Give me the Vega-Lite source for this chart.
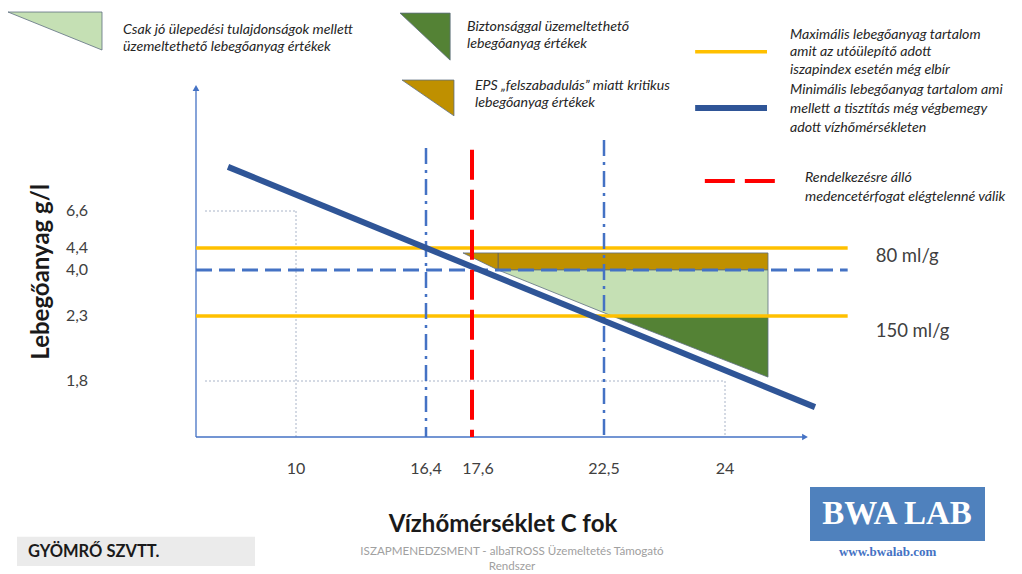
{
  "$schema": "https://vega.github.io/schema/vega-lite/v6.json",
  "width": 1022,
  "height": 574,
  "autosize": {"type": "none"},
  "padding": 0,
  "background": "white",
  "config": {"view": {"stroke": null}},
  "datasets": {
    "boxes": [
      {"box": "site", "x": -17.9, "x2": 5.9, "y": -3.21, "y2": -4.15},
      {"box": "logo", "x": 30.375, "x2": 43.5, "y": -1.61, "y2": -3.34}
    ],
    "regions": [
      {"shape": "L1", "kind": "light", "x": -18.8, "y": 12.1, "y2": 12.1},
      {"shape": "L1", "kind": "light", "x": -9.4, "y": 11.05, "y2": 12.1},
      {"shape": "L2", "kind": "dark", "x": 15.12, "y": 12.07, "y2": 12.07},
      {"shape": "L2", "kind": "dark", "x": 17.03, "y": 10.77, "y2": 12.07},
      {"shape": "L3", "kind": "brown", "x": 15.22, "y": 10.22, "y2": 10.22},
      {"shape": "L3", "kind": "brown", "x": 17.13, "y": 9.23, "y2": 10.22},
      {"shape": "B", "kind": "brown", "x": 17.365, "y": 4.31, "y2": 4.31},
      {"shape": "B", "kind": "brown", "x": 18.57, "y": 4.0, "y2": 4.31},
      {"shape": "B", "kind": "brown", "x": 27.225, "y": 4.0, "y2": 4.31},
      {"shape": "G1", "kind": "light", "x": 18.57, "y": 4.0, "y2": 4.0},
      {"shape": "G1", "kind": "light", "x": 22.6, "y": 2.3, "y2": 4.0},
      {"shape": "G1", "kind": "light", "x": 27.225, "y": 2.3, "y2": 4.0},
      {"shape": "G2", "kind": "dark", "x": 22.6, "y": 2.3, "y2": 2.3},
      {"shape": "G2", "kind": "dark", "x": 27.225, "y": 1.83, "y2": 2.3}
    ],
    "segments": [
      {"kind": "axis", "x": 0, "y": 0, "x2": 0, "y2": 10},
      {"kind": "axis", "x": 0, "y": 0, "x2": 30, "y2": 0},
      {"kind": "dotted", "x": 0.9, "y": 6.6, "x2": 10, "y2": 6.6},
      {"kind": "dotted", "x": 10, "y": 6.6, "x2": 10, "y2": 0},
      {"kind": "dotted", "x": 0.9, "y": 1.8, "x2": 24, "y2": 1.8},
      {"kind": "dotted", "x": 24, "y": 1.8, "x2": 24, "y2": 0},
      {"kind": "edge", "x": 18.57, "y": 4.0, "x2": 18.57, "y2": 4.31},
      {"kind": "yellow", "x": 0, "y": 4.4, "x2": 33.2, "y2": 4.4},
      {"kind": "yellow", "x": 0, "y": 2.3, "x2": 33.2, "y2": 2.3},
      {"kind": "yellow", "x": 23.63, "y": 11.0, "x2": 27.15, "y2": 11.0},
      {"kind": "bluedash", "x": 0, "y": 4.0, "x2": 33.2, "y2": 4.0},
      {"kind": "dashdot", "x": 16.4, "y": 8.34, "x2": 16.4, "y2": 0},
      {"kind": "dashdot", "x": 22.5, "y": 8.56, "x2": 22.5, "y2": 0},
      {"kind": "diag", "x": 3.2, "y": 7.82, "x2": 30.75, "y2": 0.96},
      {"kind": "diag", "x": 23.63, "y": 9.447, "x2": 27.15, "y2": 9.447},
      {"kind": "red", "x": 17.6, "y": 8.29, "x2": 17.6, "y2": 0},
      {"kind": "red", "x": 23.75, "y": 7.43, "x2": 28.35, "y2": 7.43}
    ],
    "legendText": [
      {"text": "Csak jó ülepedési tulajdonságok mellett", "x": -7.3, "y": 11.6},
      {"text": "üzemeltethető lebegőanyag értékek", "x": -7.3, "y": 11.13},
      {"text": "Biztonsággal üzemeltethető", "x": 17.47, "y": 11.69},
      {"text": "lebegőanyag értékek", "x": 17.47, "y": 11.22},
      {"text": "EPS „felszabadulás” miatt kritikus", "x": 17.71, "y": 10.06},
      {"text": "lebegőanyag értékek", "x": 17.71, "y": 9.59},
      {"text": "Maximális lebegőanyag tartalom", "x": 28.875, "y": 11.465},
      {"text": "amit az utóülepítő adott", "x": 28.875, "y": 10.995},
      {"text": "iszapindex esetén még elbír", "x": 28.875, "y": 10.498},
      {"text": "Minimális lebegőanyag tartalom ami", "x": 28.875, "y": 9.945},
      {"text": "mellett a tisztítás még végbemegy", "x": 28.875, "y": 9.42},
      {"text": "adott vízhőmérsékleten", "x": 28.875, "y": 8.894},
      {"text": "Rendelkezésre álló", "x": 30, "y": 7.51},
      {"text": "medencetérfogat elégtelenné válik", "x": 30, "y": 6.99}
    ],
    "ticks": [
      {"text": "10", "x": 10, "y": -1.03},
      {"text": "16,4", "x": 16.4, "y": -1.03},
      {"text": "22,5", "x": 22.5, "y": -1.03},
      {"text": "24", "x": 24, "y": -1.03},
      {"text": "6,6", "x": -11.9, "y": 6.6},
      {"text": "4,4", "x": -11.9, "y": 4.4},
      {"text": "4,0", "x": -11.9, "y": 4.0},
      {"text": "2,3", "x": -11.9, "y": 2.3},
      {"text": "1,8", "x": -11.9, "y": 1.8}
    ],
    "redTick": [{"text": "17,6", "x": 17.6, "y": -1.03}],
    "sideLabels": [
      {"text": "80 ml/g", "x": 35.3, "y": 4.25},
      {"text": "150 ml/g", "x": 35.3, "y": 2.185}
    ],
    "xTitle": [{"text": "Vízhőmérséklet C fok", "x": 18.75, "y": -2.83}],
    "yTitle": [{"text": "Lebegőanyag g/l", "x": -15.4, "y": 3.93}],
    "site": [{"text": "GYÖMRŐ SZVTT.", "x": -16.8, "y": -3.7}],
    "footer": [
      {"text": "ISZAPMENEDZSMENT - albaTROSS Üzemeltetés Támogató", "x": 19.085, "y": -3.7},
      {"text": "Rendszer", "x": 19.085, "y": -4.18}
    ],
    "logoText": [{"text": "BWA LAB", "x": 36.9, "y": -2.47}],
    "logoUrl": [{"text": "www.bwalab.com", "x": 36.2, "y": -3.7}],
    "arrows": [
      {"dir": "up", "x": 0, "y": 10},
      {"dir": "right", "x": 30, "y": 0}
    ]
  },
  "encoding": {
    "x": {"field": "x", "type": "quantitative", "axis": null,
      "scale": {"domain": [0, 10, 16.4, 17.6, 22.5, 24, 30], "range": [196, 296, 426, 472, 604, 725, 805], "zero": false, "nice": false}},
    "y": {"field": "y", "type": "quantitative", "axis": null,
      "scale": {"domain": [0, 1.8, 2.3, 4.0, 4.4, 6.6, 10], "range": [437, 381, 316, 270, 248, 211, 88], "zero": false, "nice": false}}
  },
  "layer": [
    {"data": {"name": "boxes"}, "transform": [{"filter": "datum.box === 'site'"}],
      "mark": {"type": "rect", "color": "#EBEBEB"},
      "encoding": {"x2": {"field": "x2"}, "y2": {"field": "y2"}}},
    {"data": {"name": "boxes"}, "transform": [{"filter": "datum.box === 'logo'"}],
      "mark": {"type": "rect", "color": "#4F81BD"},
      "encoding": {"x2": {"field": "x2"}, "y2": {"field": "y2"}}},
    {"data": {"name": "regions"},
      "mark": {"type": "area", "stroke": "#5E6E80", "strokeWidth": 0.8, "fillOpacity": 1},
      "encoding": {
        "y2": {"field": "y2"},
        "detail": {"field": "shape"},
        "color": {"field": "kind", "type": "nominal", "legend": null,
          "scale": {"domain": ["light", "dark", "brown"], "range": ["#C5E0B4", "#548235", "#BF9000"]}}
      }},
    {"data": {"name": "segments"}, "transform": [{"filter": "datum.kind === 'dotted'"}],
      "mark": {"type": "rule", "color": "#A9B4C8", "strokeWidth": 1, "strokeDash": [2, 2]},
      "encoding": {"x2": {"field": "x2"}, "y2": {"field": "y2"}}},
    {"data": {"name": "segments"}, "transform": [{"filter": "datum.kind === 'edge'"}],
      "mark": {"type": "rule", "color": "#5E5E5E", "strokeWidth": 1},
      "encoding": {"x2": {"field": "x2"}, "y2": {"field": "y2"}}},
    {"data": {"name": "segments"}, "transform": [{"filter": "datum.kind === 'axis'"}],
      "mark": {"type": "rule", "color": "#4472C4", "strokeWidth": 1.3},
      "encoding": {"x2": {"field": "x2"}, "y2": {"field": "y2"}}},
    {"data": {"name": "segments"}, "transform": [{"filter": "datum.kind === 'yellow'"}],
      "mark": {"type": "rule", "color": "#FFC000", "strokeWidth": 3.5},
      "encoding": {"x2": {"field": "x2"}, "y2": {"field": "y2"}}},
    {"data": {"name": "segments"}, "transform": [{"filter": "datum.kind === 'bluedash'"}],
      "mark": {"type": "rule", "color": "#4472C4", "strokeWidth": 3, "strokeDash": [16, 7]},
      "encoding": {"x2": {"field": "x2"}, "y2": {"field": "y2"}}},
    {"data": {"name": "segments"}, "transform": [{"filter": "datum.kind === 'dashdot'"}],
      "mark": {"type": "rule", "color": "#4472C4", "strokeWidth": 2.5, "strokeDash": [16, 6, 3, 6]},
      "encoding": {"x2": {"field": "x2"}, "y2": {"field": "y2"}}},
    {"data": {"name": "segments"}, "transform": [{"filter": "datum.kind === 'diag'"}],
      "mark": {"type": "rule", "color": "#2F5597", "strokeWidth": 6, "strokeCap": "butt"},
      "encoding": {"x2": {"field": "x2"}, "y2": {"field": "y2"}}},
    {"data": {"name": "segments"}, "transform": [{"filter": "datum.kind === 'red'"}],
      "mark": {"type": "rule", "color": "#FF0000", "strokeWidth": 4, "strokeDash": [30, 10]},
      "encoding": {"x2": {"field": "x2"}, "y2": {"field": "y2"}}},
    {"data": {"name": "arrows"}, "transform": [{"filter": "datum.dir === 'up'"}],
      "mark": {"type": "point", "shape": "triangle-up", "filled": true, "color": "#4472C4", "size": 45, "opacity": 1}},
    {"data": {"name": "arrows"}, "transform": [{"filter": "datum.dir === 'right'"}],
      "mark": {"type": "point", "shape": "triangle-right", "filled": true, "color": "#4472C4", "size": 45, "opacity": 1}},
    {"data": {"name": "legendText"},
      "mark": {"type": "text", "align": "left", "baseline": "middle", "font": "Lato", "fontStyle": "italic", "fontSize": 14.2, "color": "#262626"},
      "encoding": {"text": {"field": "text"}}},
    {"data": {"name": "ticks"},
      "mark": {"type": "text", "align": "center", "baseline": "middle", "font": "Lato", "fontSize": 16, "color": "#404040"},
      "encoding": {"text": {"field": "text"}}},
    {"data": {"name": "redTick"},
      "mark": {"type": "text", "align": "center", "baseline": "middle", "font": "Lato", "fontSize": 16, "color": "#404040", "dx": 6},
      "encoding": {"text": {"field": "text"}}},
    {"data": {"name": "sideLabels"},
      "mark": {"type": "text", "align": "left", "baseline": "middle", "font": "Lato", "fontSize": 18.5, "color": "#404040"},
      "encoding": {"text": {"field": "text"}}},
    {"data": {"name": "xTitle"},
      "mark": {"type": "text", "align": "center", "baseline": "middle", "font": "Lato", "fontWeight": "bold", "fontSize": 24, "color": "#1A1A1A"},
      "encoding": {"text": {"field": "text"}}},
    {"data": {"name": "yTitle"},
      "mark": {"type": "text", "align": "center", "baseline": "middle", "angle": 270, "font": "Lato", "fontWeight": "bold", "fontSize": 24, "color": "#1A1A1A"},
      "encoding": {"text": {"field": "text"}}},
    {"data": {"name": "site"},
      "mark": {"type": "text", "align": "left", "baseline": "middle", "font": "Lato", "fontWeight": "bold", "fontSize": 16.5, "color": "#1A1A1A"},
      "encoding": {"text": {"field": "text"}}},
    {"data": {"name": "footer"},
      "mark": {"type": "text", "align": "center", "baseline": "middle", "font": "Lato", "fontSize": 11.6, "color": "#A0A0A0"},
      "encoding": {"text": {"field": "text"}}},
    {"data": {"name": "logoText"},
      "mark": {"type": "text", "align": "center", "baseline": "middle", "font": "Liberation Serif", "fontWeight": "bold", "fontSize": 33, "color": "#FFFFFF"},
      "encoding": {"text": {"field": "text"}}},
    {"data": {"name": "logoUrl"},
      "mark": {"type": "text", "align": "center", "baseline": "middle", "font": "Liberation Serif", "fontWeight": "bold", "fontSize": 13, "color": "#4472C4"},
      "encoding": {"text": {"field": "text"}}}
  ]
}
